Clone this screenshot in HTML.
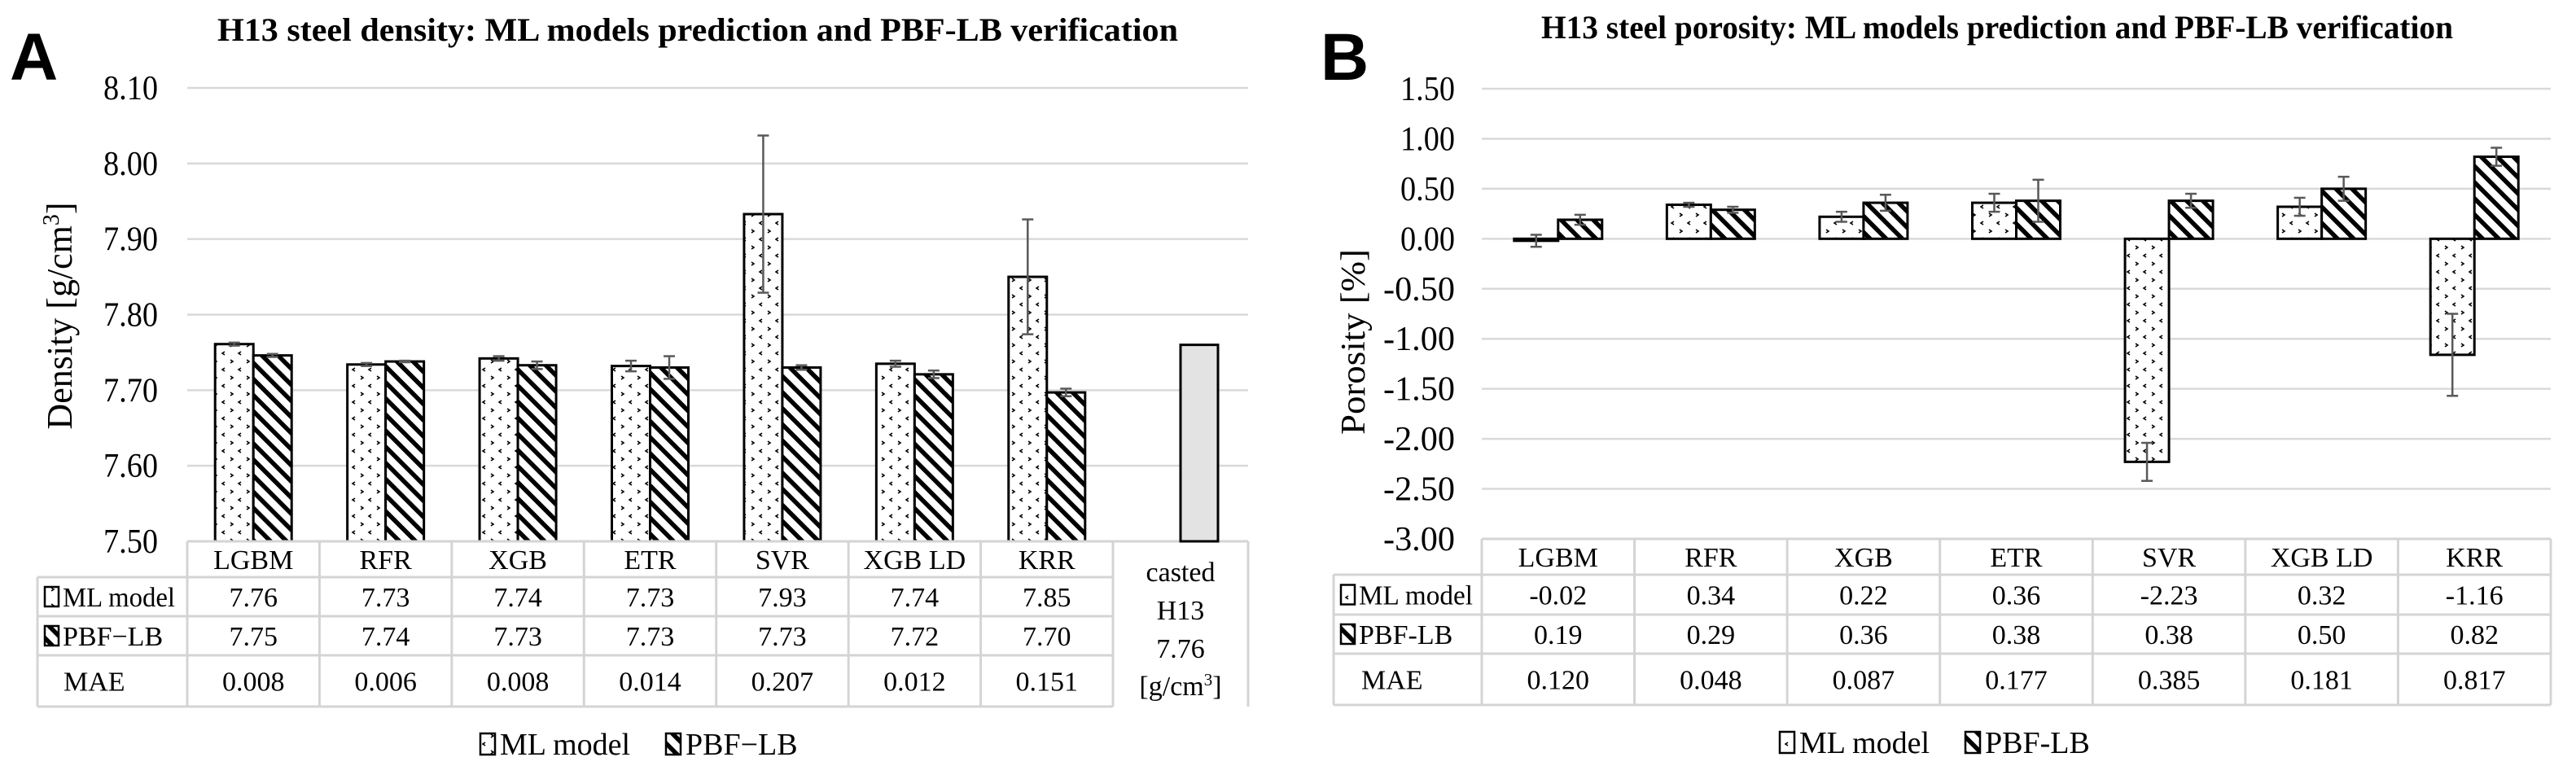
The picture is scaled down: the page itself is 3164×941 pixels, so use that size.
<!DOCTYPE html>
<html><head><meta charset="utf-8"><style>
html,body{margin:0;padding:0;background:#fff;}
svg{display:block;font-family:"Liberation Serif",serif;}
</style></head><body>
<svg id="fig" width="3164" height="941" viewBox="0 0 3164 941" xmlns="http://www.w3.org/2000/svg" font-family="Liberation Serif, serif">
<defs>
<pattern id="dots" width="20" height="20" patternUnits="userSpaceOnUse">
<rect width="20" height="20" fill="#fff"/>
<path d="M3 2 L6 4 L3 6" fill="none" stroke="#000" stroke-width="1.6"/>
<path d="M16 12 L13 14 L16 16" fill="none" stroke="#000" stroke-width="1.6"/>
</pattern>
<pattern id="stripes" width="14" height="14" patternUnits="userSpaceOnUse" patternTransform="rotate(-45)">
<rect width="14" height="14" fill="#fff"/>
<rect x="0" y="0" width="5.5" height="14" fill="#000"/>
</pattern>
</defs>
<g id="A"></g>
<g id="B"></g>
</svg>
<script>
const categories = ["LGBM","RFR","XGB","ETR","SVR","XGB LD","KRR"];
const densityML = [7.761,7.734,7.742,7.732,7.933,7.735,7.850];
const densityPBF = [7.746,7.738,7.733,7.730,7.730,7.721,7.697];
const densityMLErr = [0.002,0.002,0.003,0.007,0.104,0.004,0.076];
const densityPBFErr = [0.002,0.001,0.005,0.015,0.003,0.005,0.005];
const densityMLLabels = ["7.76","7.73","7.74","7.73","7.93","7.74","7.85"];
const densityPBFLabels = ["7.75","7.74","7.73","7.73","7.73","7.72","7.70"];
const densityMAE = ["0.008","0.006","0.008","0.014","0.207","0.012","0.151"];
const castedDensity = 7.76;
const densityTicks = [7.50,7.60,7.70,7.80,7.90,8.00,8.10];
const porosityML = [-0.02,0.34,0.22,0.36,-2.23,0.32,-1.16];
const porosityPBF = [0.19,0.29,0.36,0.38,0.38,0.50,0.82];
const porosityMLErr = [0.06,0.02,0.05,0.09,0.19,0.09,0.41];
const porosityPBFErr = [0.05,0.03,0.08,0.21,0.07,0.12,0.09];
const porosityMLLabels = ["-0.02","0.34","0.22","0.36","-2.23","0.32","-1.16"];
const porosityPBFLabels = ["0.19","0.29","0.36","0.38","0.38","0.50","0.82"];
const porosityMAE = ["0.120","0.048","0.087","0.177","0.385","0.181","0.817"];
const porosityTicks = [-3.00,-2.50,-2.00,-1.50,-1.00,-0.50,0.00,0.50,1.00,1.50];

const NS="http://www.w3.org/2000/svg";
function mk(parent,tag,attrs,text){const e=document.createElementNS(NS,tag);for(const k in attrs)e.setAttribute(k,attrs[k]);if(text!==undefined)e.textContent=text;parent.appendChild(e);return e;}

function drawChart(g,o){
  const y=v=>o.yBottom-(v-o.min)/(o.max-o.min)*(o.yBottom-o.yTop);
  const cw=(o.catRight-o.plotLeft)/categories.length;
  const cx=i=>o.plotLeft+cw*(i+0.5);
  o.ticks.forEach(t=>{
    const l=mk(g,'line',{x1:o.plotLeft,x2:o.gridRight,y1:y(t),y2:y(t),stroke:'#d9d9d9','stroke-width':2.5});
    
    
    const s=t.toFixed(2);
    const tx=mk(g,'text',{x:o.tickX,y:y(t)+14,'text-anchor':'end','font-size':42,textLength:(s.length>4?88:67),lengthAdjust:'spacingAndGlyphs'},s);
    
    
  });
  const base=o.base;
  categories.forEach((c,i)=>{
    [[o.ml,o.mlErr,'url(#dots)',-1,'ml'],[o.pbf,o.pbfErr,'url(#stripes)',0,'pbf']].forEach(([vals,errs,fill,off,nm])=>{
      const v=vals[i];const x=cx(i)+off*o.bw;
      const y1=Math.min(y(v),y(base)),y2=Math.max(y(v),y(base));
      const r=mk(g,'rect',{x:x,y:y1,width:o.bw,height:Math.max(y2-y1,1),fill:fill,stroke:'#000','stroke-width':3});
      
      
      const ex=x+o.bw/2,e=errs[i];
      const eg=mk(g,'g',{stroke:'#595959','stroke-width':2.5});
      
      
      mk(eg,'line',{x1:ex,x2:ex,y1:y(v+e),y2:y(v-e)});
      mk(eg,'line',{x1:ex-7,x2:ex+7,y1:y(v+e),y2:y(v+e)});
      mk(eg,'line',{x1:ex-7,x2:ex+7,y1:y(v-e),y2:y(v-e)});
    });
  });
  const R=o.rows, tb=mk(g,'g',{});
  
  
  const st={stroke:'#d4d4d4','stroke-width':3};
  mk(tb,'line',Object.assign({x1:o.plotLeft,x2:o.tableRight,y1:R[0],y2:R[0]},st));
  for(let k=1;k<R.length;k++) mk(tb,'line',Object.assign({x1:o.tableLeft,x2:o.rowLineRight,y1:R[k],y2:R[k]},st));
  mk(tb,'line',Object.assign({x1:o.tableLeft,x2:o.tableLeft,y1:R[1],y2:R[4]},st));
  for(let i=0;i<=categories.length;i++){const x=o.plotLeft+cw*i;mk(tb,'line',Object.assign({x1:x,x2:x,y1:R[0],y2:R[4]},st));}
  mk(tb,'line',Object.assign({x1:o.tableRight,x2:o.tableRight,y1:R[0],y2:R[4]},st));
  const mid=k=>(R[k]+R[k+1])/2+12;
  categories.forEach((c,i)=>{
    const t0=mk(tb,'text',{x:cx(i),y:mid(0),'text-anchor':'middle','font-size':34},c);
    
    
    const t1=mk(tb,'text',{x:cx(i),y:mid(1),'text-anchor':'middle','font-size':34},o.mlL[i]);
    
    
    const t2=mk(tb,'text',{x:cx(i),y:mid(2),'text-anchor':'middle','font-size':34},o.pbfL[i]);
    
    
    const t3=mk(tb,'text',{x:cx(i),y:mid(3),'text-anchor':'middle','font-size':34},o.mae[i]);
    
    
  });
  const ix=o.tableLeft+9;
  mk(tb,'rect',{x:ix,y:mid(1)-24,width:17,height:24,fill:'url(#dots)',stroke:'#000','stroke-width':2.5});
  mk(tb,'text',{x:ix+22,y:mid(1),'font-size':34,textLength:o.rowLabW,lengthAdjust:'spacingAndGlyphs'},'ML model');
  mk(tb,'rect',{x:ix,y:mid(2)-24,width:17,height:24,fill:'url(#stripes)',stroke:'#000','stroke-width':2.5});
  mk(tb,'text',{x:ix+22,y:mid(2),'font-size':34},o.pbfName);
  mk(tb,'text',{x:o.tableLeft+o.maeX,y:mid(3),'font-size':34},'MAE');
  const lg=mk(g,'g',{});
  
  
  const lx=o.legX,ly=o.legY;
  mk(lg,'rect',{x:lx,y:ly-26,width:18,height:26,fill:'url(#dots)',stroke:'#000','stroke-width':2.5});
  mk(lg,'text',{x:lx+24,y:ly,'font-size':38},'ML model');
  mk(lg,'rect',{x:lx+228,y:ly-26,width:18,height:26,fill:'url(#stripes)',stroke:'#000','stroke-width':2.5});
  mk(lg,'text',{x:lx+252,y:ly,'font-size':38},o.pbfName);
  return y;
}

const gA=document.getElementById('A'), gB=document.getElementById('B');
const yA=drawChart(gA,{min:7.5,max:8.1,yTop:108,yBottom:665,base:7.5,plotLeft:230,catRight:1367,gridRight:1533,tickX:194,
  ml:densityML,pbf:densityPBF,mlErr:densityMLErr,pbfErr:densityPBFErr,mlL:densityMLLabels,pbfL:densityPBFLabels,mae:densityMAE,
  ticks:densityTicks,bw:47,rows:[665,709,757,805,868],tableLeft:46,tableRight:1533,rowLineRight:1367,rowLabW:138,maeX:32,pbfName:'PBF\u2212LB',legX:590,legY:927});
const cb=mk(gA,'rect',{x:1450,y:yA(castedDensity),width:46,height:yA(7.5)-yA(castedDensity),fill:'#e3e3e3',stroke:'#000','stroke-width':3});


[['casted',703],['H13',750],[castedDensity.toFixed(2),797]].forEach(([t,yy])=>mk(gA,'text',{x:1450,y:yy+11,'text-anchor':'middle','font-size':34},t));
const gc=mk(gA,'text',{x:1450,y:854,'text-anchor':'middle','font-size':34});
gc.innerHTML='[g/cm<tspan dy="-12" font-size="21">3</tspan><tspan dy="12">]</tspan>';
const tA=mk(gA,'text',{x:857,y:50,'text-anchor':'middle','font-size':40,'font-weight':'bold',textLength:1180,lengthAdjust:'spacingAndGlyphs'},'H13 steel density: ML models prediction and PBF-LB verification');


const aA=mk(gA,'text',{x:0,y:0,'text-anchor':'middle','font-size':44,transform:'translate(88,388) rotate(-90)'});
aA.innerHTML='Density [g/cm<tspan dy="-16" font-size="28">3</tspan><tspan dy="16">]</tspan>';


const pA=mk(gA,'text',{x:12,y:98,'font-size':82,'font-weight':'bold','font-family':'Liberation Sans, sans-serif'},'A');



drawChart(gB,{min:-3,max:1.5,yTop:109,yBottom:662,base:0,plotLeft:1820,catRight:3133,gridRight:3133,tickX:1787,
  ml:porosityML,pbf:porosityPBF,mlErr:porosityMLErr,pbfErr:porosityPBFErr,mlL:porosityMLLabels,pbfL:porosityPBFLabels,mae:porosityMAE,
  ticks:porosityTicks,bw:54,rows:[662,706,755,803,866],tableLeft:1638,tableRight:3133,rowLineRight:3133,rowLabW:140,maeX:34,pbfName:'PBF-LB',legX:2186,legY:925});
const tB=mk(gB,'text',{x:2453,y:47,'text-anchor':'middle','font-size':40,'font-weight':'bold',textLength:1120,lengthAdjust:'spacingAndGlyphs'},'H13 steel porosity: ML models prediction and PBF-LB verification');


const aB=mk(gB,'text',{x:0,y:0,'text-anchor':'middle','font-size':42,transform:'translate(1676,420) rotate(-90)',textLength:228,lengthAdjust:'spacingAndGlyphs'},'Porosity [%]');


const pB=mk(gB,'text',{x:1622,y:98,'font-size':82,'font-weight':'bold','font-family':'Liberation Sans, sans-serif'},'B');


</script>
</body></html>
